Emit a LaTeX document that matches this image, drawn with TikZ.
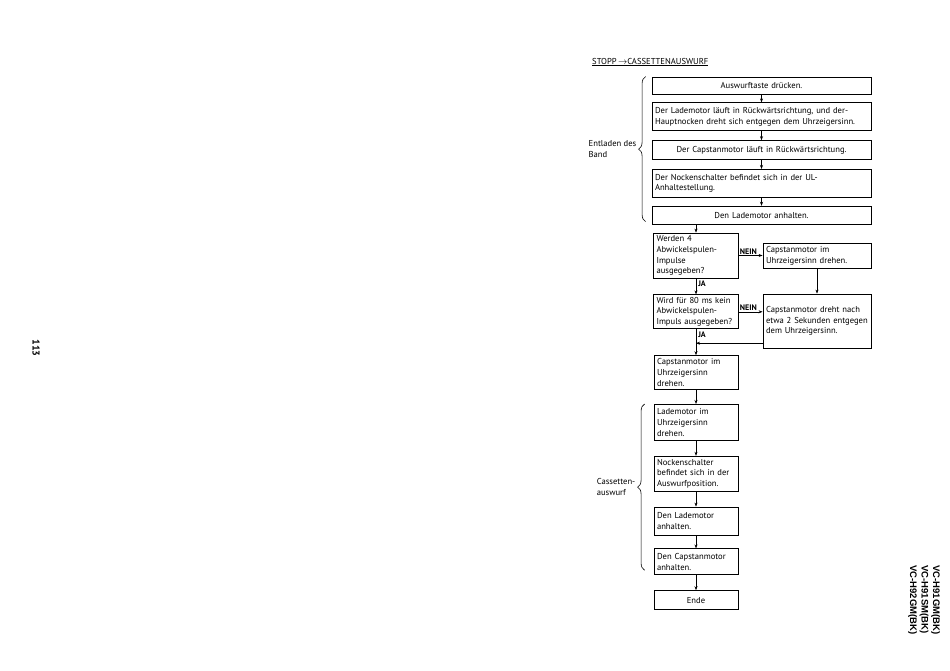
\documentclass[tikz,border=0pt]{standalone}
\usepackage{fontspec}
\setmainfont{PT Sans}
\newfontfamily\modelfont{Liberation Sans}
\usepackage{tikz}
\usetikzlibrary{positioning, arrows.meta, calc, decorations.pathreplacing}

\begin{document}
\begin{tikzpicture}[
    x=1pt, y=-1pt,
    every node/.style={font=\fontsize{8.6}{10.8}\selectfont},
    box/.style={draw, line width=0.8pt, inner xsep=3pt, inner ysep=2pt, align=left},
    widebox/.style={box, text width=213pt},
    centerbox/.style={widebox, align=center},
    askbox/.style={box, text width=79pt},
    stepbox/.style={box, text width=78pt},
    sidebox/.style={box, text width=102pt},
    arrow/.style={-{Stealth[length=4pt,width=3pt]}, line width=0.6pt},
    answer/.style={font=\fontsize{8}{9}\selectfont\bfseries, inner sep=1pt},
    bracket/.style={decorate, decoration={brace, amplitude=7pt}, line width=0.6pt},
    grouplabel/.style={align=left, inner sep=1pt},
]
\useasboundingbox (0,0) rectangle (950,670);

% Title
\node[anchor=west, inner sep=0pt] (title) at (592,62) {\underline{STOPP\,$\rightarrow$CASSETTENAUSWURF}};

% Unloading the tape
\node[centerbox, minimum height=17pt] (b1) at (761.5,85.5) {Auswurftaste drücken.};
\node[widebox, minimum height=28pt, below=8pt of b1] (b2) {Der Lademotor läuft in Rückwärtsrichtung, und der-\\Hauptnocken dreht sich entgegen dem Uhrzeigersinn.};
\node[centerbox, minimum height=19pt, below=9pt of b2] (b3) {Der Capstanmotor läuft in Rückwärtsrichtung.};
\node[widebox, minimum height=28pt, below=9pt of b3] (b4) {Der Nockenschalter befindet sich in der UL-\\Anhaltestellung.};
\node[centerbox, minimum height=18pt, below=8pt of b4] (b5) {Den Lademotor anhalten.};

% Reel pulse checks
\node[askbox, minimum height=45pt] (d1) at (696,255.5) {Werden 4\\Abwickelspulen-\\Impulse\\ausgegeben?};
\node[askbox, minimum height=34pt, below=16pt of d1] (d2) {Wird für 80 ms kein\\Abwickelspulen-\\Impuls ausgegeben?};
\node[sidebox, minimum height=25pt] (c1) at (817,255.5) {Capstanmotor im\\Uhrzeigersinn drehen.};
\node[sidebox, minimum height=54pt] (c2) at (817,321) {Capstanmotor dreht nach\\etwa 2 Sekunden entgegen\\dem Uhrzeigersinn.};
\coordinate (join) at ($(d2.south)+(0,14)$);

% Cassette eject
\node[stepbox, minimum height=34pt, below=26pt of d2] (s1) {Capstanmotor im\\Uhrzeigersinn\\drehen.};
\node[stepbox, minimum height=36pt, below=14pt of s1] (s2) {Lademotor im\\Uhrzeigersinn\\drehen.};
\node[stepbox, minimum height=35pt, below=15pt of s2] (s3) {Nockenschalter\\befindet sich in der\\Auswurfposition.};
\node[stepbox, minimum height=28pt, below=15pt of s3] (s4) {Den Lademotor\\anhalten.};
\node[stepbox, minimum height=26pt, below=13pt of s4] (s5) {Den Capstanmotor\\anhalten.};
\node[stepbox, minimum height=19pt, below=15pt of s5, align=center] (s6) {Ende};

% Connections
\draw[arrow] (b1) -- (b2);
\draw[arrow] (b2) -- (b3);
\draw[arrow] (b3) -- (b4);
\draw[arrow] (b4) -- (b5);
\draw[arrow] (b5.south -| d1.north) -- (d1.north);
\draw[arrow] (d1) -- node[answer, right, pos=0.35, xshift=1pt] {JA} (d2);
\draw[arrow] (d1.east |- c1.west) -- node[answer, above, pos=0.4] {NEIN} (c1.west);
\draw[arrow] (c1) -- (c2);
\draw[arrow] (d2.east) -- node[answer, above, pos=0.4] {NEIN} (d2.east -| c2.west);
\draw[arrow] (join -| c2.west) -- (join);
\draw[arrow] (d2.south) -- node[answer, right, pos=0.2, xshift=1pt] {JA} (s1.north);
\draw[arrow] (s1) -- (s2);
\draw[arrow] (s2) -- (s3);
\draw[arrow] (s3) -- (s4);
\draw[arrow] (s4) -- (s5);
\draw[arrow] (s5) -- (s6);

% Braces
\draw[bracket] ([xshift=-6pt,yshift=3pt]b5.south west) -- node[grouplabel, left=8pt] (unload) {Entladen des\\Band} ([xshift=-6pt]b1.north west);
\draw[bracket] ([xshift=-9pt,yshift=5pt]s5.south west) -- node[grouplabel, left=8pt] (eject) {Cassetten-\\auswurf} ([xshift=-9pt]s2.north west);

% Page margin
\node[rotate=-90, font=\fontsize{10}{11}\selectfont\bfseries] (page) at (36,348) {113};
\node[rotate=-90, align=left, font=\modelfont\fontsize{9.5}{11.5}\selectfont\bfseries] (models) at (924,600) {VC-H91GM(BK)\\VC-H91SM(BK)\\VC-H92GM(BK)};

\end{tikzpicture}
\end{document}
